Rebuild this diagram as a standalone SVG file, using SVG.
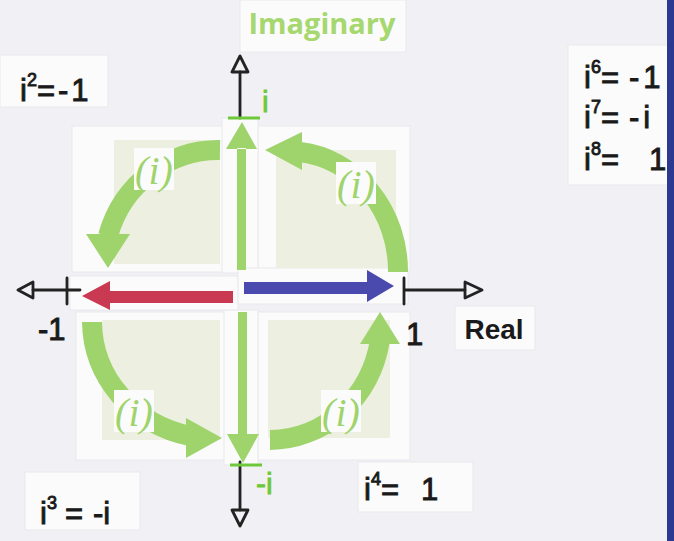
<svg xmlns="http://www.w3.org/2000/svg" width="674" height="541" viewBox="0 0 674 541">
<defs>
<style>
.paper{fill:#fbfbfc;stroke:#e9e8ec;stroke-width:1}
.pale{fill:#edf0e0}
.arc{fill:none;stroke:#9fd46d;stroke-width:20}
.g{fill:#9fd46d}
.ink{stroke:#222;stroke-width:2.8;fill:none;stroke-linecap:round}
.hw{font-family:"Liberation Sans",Arial,sans-serif;font-size:31px;fill:#1a1a1a;stroke:#1a1a1a;stroke-width:0.9}
.hg{font-family:"Liberation Sans",Arial,sans-serif;font-size:30px;fill:#6ec93a;stroke:#6ec93a;stroke-width:0.8}
.ii{font-family:"Liberation Serif","Times New Roman",serif;font-style:italic;font-size:40px;fill:#9fd46d}
.sup{font-size:18px}
</style>
</defs>
<rect width="674" height="541" fill="#f1f0f4"/>
<!-- papers -->
<rect class="paper" x="240" y="0" width="166" height="52"/>
<rect class="paper" x="0" y="55" width="108" height="52"/>
<rect class="paper" x="568" y="45" width="105" height="140"/>
<rect class="paper" x="455" y="306" width="80" height="44"/>
<rect class="paper" x="25" y="472" width="115" height="58"/>
<rect class="paper" x="358" y="462" width="115" height="50"/>
<rect class="paper" x="72" y="126" width="153" height="146"/>
<rect class="paper" x="258" y="126" width="152" height="146"/>
<rect class="paper" x="76" y="312" width="150" height="148"/>
<rect class="paper" x="258" y="312" width="152" height="148"/>
<rect class="paper" x="222" y="118" width="36" height="155"/>
<rect class="paper" x="224" y="310" width="34" height="155"/>
<rect class="paper" x="70" y="276" width="168" height="34"/>
<rect class="paper" x="238" y="268" width="170" height="36"/>
<!-- pale squares -->
<rect class="pale" x="114" y="140" width="106" height="124"/>
<rect class="pale" x="276" y="150" width="120" height="118"/>
<rect class="pale" x="102" y="320" width="118" height="120"/>
<rect class="pale" x="268" y="320" width="122" height="118"/>
<!-- axes -->
<g id="axes">
<path class="ink" d="M240 72 V118 M240 462 V510 M33 290 H80 M404 290 H465 M67 278 V304 M404 278 V304"/>
<path class="ink" d="M240 56 L232 72 H248 Z M240 526 L232 510 H248 Z M18 290 L33 282 V298 Z M482 290 L465 282 V298 Z" stroke-linejoin="round"/>
<path d="M228 118 H260 M230 465 H262" stroke="#6ec93a" stroke-width="3"/>
</g>
<!-- quadrant arcs -->
<g id="q1">
<path class="arc" d="M220 150 A115 118 0 0 0 108 236"/>
<path class="g" d="M86 234 L130 234 L108 268 Z"/>
<rect x="134" y="148" width="40" height="42" fill="#fbfbfc"/>
<text class="ii" x="154" y="184" text-anchor="middle">(i)</text>
</g>
<g id="q2">
<path class="arc" d="M300 152 A110 120 0 0 1 398 272"/>
<path class="g" d="M265 150 L302 132 L302 170 Z"/>
<rect x="336" y="162" width="40" height="42" fill="#fbfbfc"/>
<text class="ii" x="356" y="198" text-anchor="middle">(i)</text>
</g>
<g id="q3">
<path class="arc" d="M92 322 A125 118 0 0 0 190 436"/>
<path class="g" d="M222 438 L186 418 L186 458 Z"/>
<rect x="114" y="390" width="40" height="42" fill="#fbfbfc"/>
<text class="ii" x="134" y="426" text-anchor="middle">(i)</text>
</g>
<g id="q4">
<path class="arc" d="M270 440 A112 120 0 0 0 380 340"/>
<path class="g" d="M380 312 L360 344 L400 344 Z"/>
<rect x="321" y="390" width="40" height="42" fill="#fbfbfc"/>
<text class="ii" x="341" y="426" text-anchor="middle">(i)</text>
</g>
<!-- center arrows -->
<g id="arrows">
<path class="g" d="M237 148 H246 V270 H237 Z M242 122 L226 149 H257 Z"/>
<path class="g" d="M238 312 H247 V436 H238 Z M243 463 L227 434 H259 Z"/>
<path fill="#c93a52" d="M233 291 V303 H110 V310 L82 296 L110 281 V291 Z"/>
<path fill="#4a4aae" d="M244 282 V294 H367 V302 L394 286 L367 270 V282 Z"/>
</g>
<!-- labels -->
<text x="322" y="34" text-anchor="middle" font-family="'Open Sans','Liberation Sans',sans-serif" font-weight="bold" font-size="29" fill="#a6d86f">Imaginary</text>
<text x="494" y="339" text-anchor="middle" font-family="'Liberation Sans',Arial,sans-serif" font-weight="bold" font-size="28" fill="#1a1a1a">Real</text>
<text class="hw" x="20" y="101">i<tspan class="sup" dy="-15">2</tspan><tspan dy="15" letter-spacing="3">=-1</tspan></text>
<text class="hw" x="584" y="88">i<tspan class="sup" dy="-15">6</tspan><tspan dy="15">=</tspan><tspan dx="10">-</tspan><tspan dx="4">1</tspan></text>
<text class="hw" x="584" y="128">i<tspan class="sup" dy="-15">7</tspan><tspan dy="15">=</tspan><tspan dx="10">-</tspan><tspan dx="4">i</tspan></text>
<text class="hw" x="584" y="170">i<tspan class="sup" dy="-15">8</tspan><tspan dy="15">=</tspan><tspan dx="30">1</tspan></text>
<text class="hw" x="40" y="524">i<tspan class="sup" dy="-15">3</tspan><tspan dy="15" dx="8">=</tspan><tspan dx="10">-i</tspan></text>
<text class="hw" x="364" y="500">i<tspan class="sup" dy="-15">4</tspan><tspan dy="15">=</tspan><tspan dx="22">1</tspan></text>
<text class="hw" x="38" y="340">-1</text>
<text class="hw" x="406" y="345">1</text>
<text class="hg" x="262" y="112">i</text>
<text class="hg" x="256" y="494">-i</text>
<rect x="667" y="0" width="7" height="541" fill="#2b3990"/>
</svg>
